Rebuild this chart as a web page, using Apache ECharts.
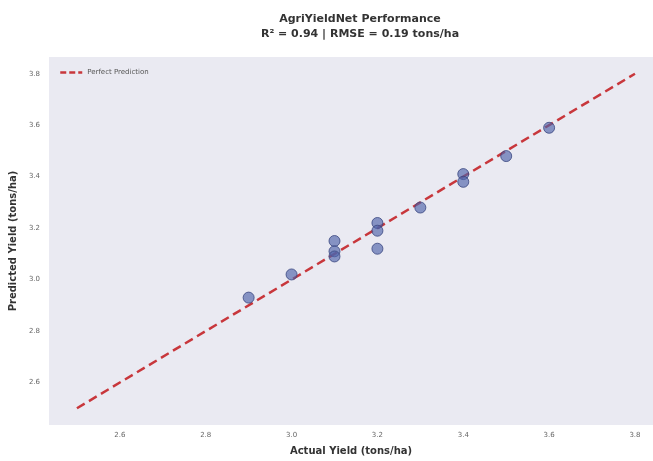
<!DOCTYPE html>
<html><head><meta charset="utf-8">
<script src="https://cdn.jsdelivr.net/npm/echarts@6/dist/echarts.min.js"></script>
<style>html,body{margin:0;padding:0;background:#fff}#c{width:653px;height:461px}</style>
</head><body><div id="c"></div>
<script>
const actual = [2.9, 3.0, 3.1, 3.1, 3.1, 3.2, 3.2, 3.2, 3.3, 3.4, 3.4, 3.5, 3.6];
const predicted = [2.93, 3.02, 3.15, 3.11, 3.09, 3.22, 3.19, 3.12, 3.28, 3.41, 3.38, 3.48, 3.59];
const perfectLine = [2.5, 3.8];
const tickValues = [2.6, 2.8, 3.0, 3.2, 3.4, 3.6, 3.8];
const titleText = 'AgriYieldNet Performance';
const subtitleText = 'R² = 0.94 | RMSE = 0.19 tons/ha';

const chart = echarts.init(document.getElementById('c'), null, {renderer: 'canvas'});
const font = 'DejaVu Sans';
chart.setOption({
  backgroundColor: '#ffffff',
  animation: false,
  title: {
    text: titleText + '\n' + subtitleText,
    left: 355, top: 7, textAlign: 'center',
    textStyle: {fontFamily: font, fontSize: 11, fontWeight: 'bold', color: '#333', lineHeight: 15}
  },
  legend: {
    left: 54, top: 64, orient: 'vertical',
    itemWidth: 22, itemHeight: 8, itemGap: 4,
    data: ['Perfect Prediction'],
    itemStyle: {opacity: 0},
    lineStyle: {type: [6, 3], width: 2.5, color: '#c8373c'},
    textStyle: {fontFamily: font, fontSize: 7, color: '#555'}
  },
  grid: {left: 48, right: 0, top: 57, bottom: 32, show: true, backgroundColor: '#eaeaf2', borderWidth: 0},
  xAxis: {
    type: 'value', min: 2.435, max: 3.842,
    name: 'Actual Yield (tons/ha)', nameLocation: 'middle', nameGap: 21,
    nameTextStyle: {fontFamily: font, fontSize: 10, fontWeight: 'bold', color: '#333'},
    axisLine: {show: false}, axisTick: {show: false}, splitLine: {show: false},
    axisLabel: {customValues: tickValues, fontFamily: font, fontSize: 7, color: '#666', margin: 7,
      formatter: v => v.toFixed(1)}
  },
  yAxis: {
    type: 'value', min: 2.435, max: 3.865,
    name: 'Predicted Yield (tons/ha)', nameLocation: 'middle', nameGap: 25,
    nameTextStyle: {fontFamily: font, fontSize: 10, fontWeight: 'bold', color: '#333'},
    axisLine: {show: false}, axisTick: {show: false}, splitLine: {show: false},
    axisLabel: {customValues: tickValues, fontFamily: font, fontSize: 7, color: '#666', margin: 9,
      formatter: v => v.toFixed(1)}
  },
  series: [
    {
      name: 'Perfect Prediction', type: 'line',
      data: perfectLine.map(v => [v, v]),
      symbol: 'none', z: 2,
      lineStyle: {color: '#c8373c', width: 2.5, type: [9, 5]},
      itemStyle: {color: '#c8373c'}
    },
    {
      name: 'points', type: 'scatter', z: 3,
      data: actual.map((a, i) => [a, predicted[i]]),
      symbolSize: 11,
      itemStyle: {color: 'rgba(80,100,170,0.82)', borderColor: '#3a4680', borderWidth: 1}
    }
  ]
});
</script></body></html>
